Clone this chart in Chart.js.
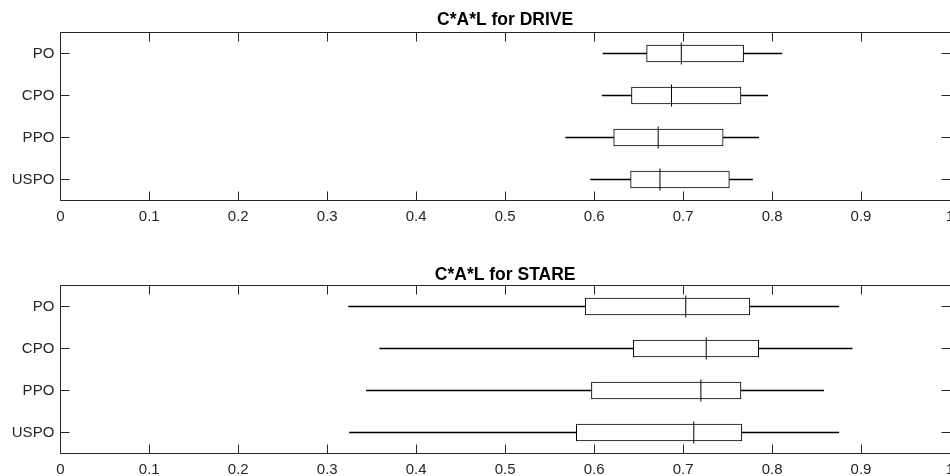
<!DOCTYPE html>
<html>
<head>
<meta charset="utf-8">
<script src="https://cdn.jsdelivr.net/npm/chart.js@4.4.0/dist/chart.umd.min.js"></script>
<style>
  html, body { margin: 0; padding: 0; background: #fff; overflow: hidden; }
  canvas { display: block; }
</style>
</head>
<body>
<canvas id="driveChart" width="962" height="240"></canvas>
<canvas id="stareChart" width="962" height="236"></canvas>
<script>
// methods on the y axis (top to bottom)
const categories = ['PO', 'CPO', 'PPO', 'USPO'];

// DRIVE box plot stats
const driveMin    = [0.610, 0.609, 0.568, 0.596];
const driveQ1     = [0.659, 0.642, 0.622, 0.641];
const driveMedian = [0.698, 0.687, 0.672, 0.674];
const driveQ3     = [0.768, 0.765, 0.745, 0.752];
const driveMax    = [0.811, 0.795, 0.785, 0.778];

// STARE box plot stats
const stareMin    = [0.324, 0.359, 0.344, 0.325];
const stareQ1     = [0.590, 0.644, 0.597, 0.580];
const stareMedian = [0.703, 0.726, 0.720, 0.712];
const stareQ3     = [0.775, 0.785, 0.765, 0.766];
const stareMax    = [0.875, 0.890, 0.858, 0.875];

// x axis range / step
const xMin = 0, xMax = 1, xStep = 0.1;

const FONT = "'Liberation Sans', Arial, Helvetica, sans-serif";
const AXIS_COLOR = '#262626';

// matlab style frame with ticks pointing inward
const matlabAxes = {
    id: 'matlabAxes',
    afterDraw(chart) {
        const { ctx, chartArea: a, scales } = chart;
        const x = scales.x, y = scales.y;
        const L = Math.round(a.left) + 0.5, R = Math.round(a.right) + 0.5;
        const T = Math.floor(a.top) + 0.5, B = Math.floor(a.bottom) + 0.5;
        ctx.save();
        ctx.strokeStyle = AXIS_COLOR;
        ctx.lineWidth = 1;
        ctx.beginPath();
        ctx.rect(L, T, R - L, B - T);
        x.ticks.forEach(t => {
            const px = Math.round(x.getPixelForValue(t.value)) + 0.5;
            ctx.moveTo(px, B); ctx.lineTo(px, B - 9);
            ctx.moveTo(px, T); ctx.lineTo(px, T + 9);
        });
        y.ticks.forEach((t, i) => {
            const py = Math.floor(y.getPixelForTick(i)) + 0.5;
            ctx.moveTo(L, py); ctx.lineTo(L + 9, py);
            ctx.moveTo(R, py); ctx.lineTo(R - 9, py);
        });
        ctx.stroke();
        ctx.restore();
    }
};

function makeBoxChart(canvasId, title, mins, q1, med, q3, maxs, sizes) {
    const ctx = document.getElementById(canvasId).getContext('2d');
    return new Chart(ctx, {
        type: 'bar',
        data: {
            labels: categories,
            datasets: [
                {
                    // median mark
                    type: 'line',
                    data: med,
                    showLine: false,
                    pointStyle: 'line',
                    pointRadius: 11,
                    pointRotation: 90,
                    pointBorderColor: '#000',
                    pointBorderWidth: 1,
                    order: 0
                },
                {
                    // box q1..q3
                    data: categories.map((c, i) => [q1[i], q3[i]]),
                    backgroundColor: '#fff',
                    borderColor: '#000',
                    borderWidth: 1,
                    borderSkipped: false,
                    barThickness: 17,
                    grouped: false,
                    order: 1
                },
                {
                    // whisker min..max
                    data: categories.map((c, i) => [mins[i], maxs[i]]),
                    backgroundColor: '#000',
                    borderWidth: 0,
                    barThickness: 1,
                    grouped: false,
                    order: 2
                }
            ]
        },
        options: {
            indexAxis: 'y',
            responsive: false,
            animation: false,
            events: [],
            layout: { padding: 0 },
            plugins: {
                legend: { display: false },
                tooltip: { enabled: false },
                title: {
                    display: true,
                    fullSize: false,
                    text: title,
                    color: '#000',
                    font: { family: FONT, size: 17.5, weight: 'bold' },
                    padding: { top: sizes.titleTop, bottom: sizes.titleBottom }
                }
            },
            scales: {
                x: {
                    type: 'linear',
                    min: xMin,
                    max: xMax,
                    grid: { display: false, drawTicks: false },
                    border: { display: false },
                    ticks: {
                        stepSize: xStep,
                        color: AXIS_COLOR,
                        padding: 7,
                        font: { family: FONT, size: 15 },
                        maxRotation: 0,
                        callback: v => String(Number(v.toFixed(1)))
                    },
                    afterFit: s => { s.height = sizes.xHeight; }
                },
                y: {
                    type: 'category',
                    offset: true,
                    grid: { display: false, drawTicks: false },
                    border: { display: false },
                    ticks: {
                        color: AXIS_COLOR,
                        padding: 6,
                        font: { family: FONT, size: 15 }
                    },
                    afterFit: s => { s.width = 60.3; }
                }
            }
        },
        plugins: [matlabAxes]
    });
}

makeBoxChart('driveChart', 'C*A*L for DRIVE',
    driveMin, driveQ1, driveMedian, driveQ3, driveMax,
    { titleTop: 10, titleBottom: 1.5, xHeight: 39.5 });

makeBoxChart('stareChart', 'C*A*L for STARE',
    stareMin, stareQ1, stareMedian, stareQ3, stareMax,
    { titleTop: 24.5, titleBottom: 0, xHeight: 22.5 });
</script>
</body>
</html>
